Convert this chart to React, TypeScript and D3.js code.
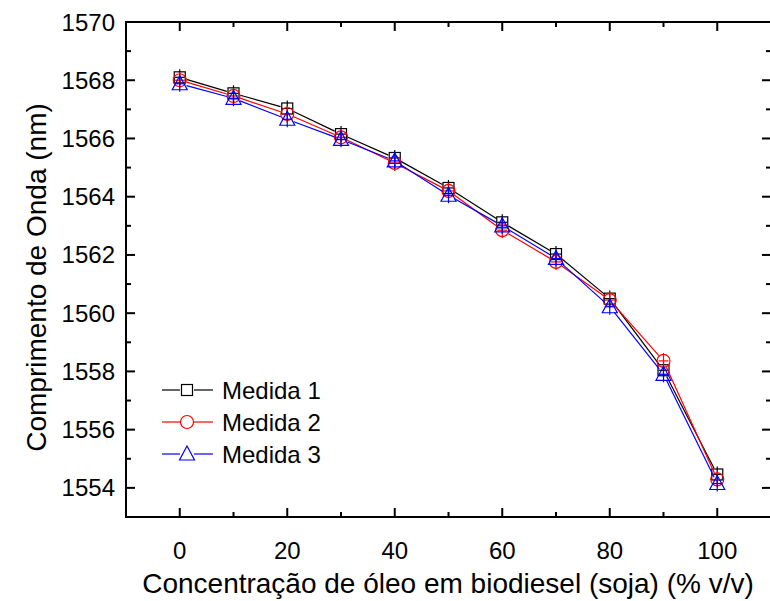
import { useEffect, useRef } from "react";
import * as d3 from "d3";

// concentração (% v/v)
const concentrations = [0, 10, 20, 30, 40, 50, 60, 70, 80, 90, 100];
const medida1 = [1568.1, 1567.55, 1567.03, 1566.15, 1565.33, 1564.3, 1563.12, 1562.03, 1560.5, 1558.04, 1554.46];
const medida2 = [1568.0, 1567.46, 1566.84, 1566.04, 1565.16, 1564.2, 1562.85, 1561.76, 1560.45, 1558.36, 1554.29];
const medida3 = [1567.88, 1567.38, 1566.66, 1565.97, 1565.23, 1564.05, 1563.0, 1561.88, 1560.22, 1557.9, 1554.15];
const seriesNames = ["Medida 1", "Medida 2", "Medida 3"];
const xTicks = [0, 20, 40, 60, 80, 100];
const yTicks = [1554, 1556, 1558, 1560, 1562, 1564, 1566, 1568, 1570];

const colors = ["#000000", "#ff0000", "#0000ff"];
const shapes = ["square", "circle", "triangle"];

export default function App() {
  const svgRef = useRef<SVGSVGElement>(null);

  useEffect(() => {
    const width = 770;
    const height = 601;
    const left = 126, right = 771, top = 22, bottom = 517;

    const svg = d3.select(svgRef.current)
      .attr("width", width)
      .attr("height", height)
      .style("font-family", "'Liberation Sans', Arial, sans-serif");
    svg.selectAll("*").remove();

    const x = d3.scaleLinear().domain([-10, 110]).range([left, right]);
    const y = d3.scaleLinear().domain([1553, 1570]).range([bottom, top]);

    const minorX = d3.range(10, 100, 20);
    const minorY = d3.range(1553, 1570, 2);

    const axes = svg.append("g").attr("stroke", "#000");
    // frame
    axes.append("rect")
      .attr("x", left).attr("y", top)
      .attr("width", right - left).attr("height", bottom - top)
      .attr("fill", "none").attr("stroke-width", 2);

    // ticks (all inward)
    xTicks.forEach(t => {
      axes.append("line").attr("x1", x(t)).attr("x2", x(t)).attr("y1", bottom).attr("y2", bottom - 9).attr("stroke-width", 2);
      axes.append("line").attr("x1", x(t)).attr("x2", x(t)).attr("y1", top).attr("y2", top + 9).attr("stroke-width", 2);
    });
    minorX.forEach(t => {
      axes.append("line").attr("x1", x(t)).attr("x2", x(t)).attr("y1", bottom).attr("y2", bottom - 5).attr("stroke-width", 2);
      axes.append("line").attr("x1", x(t)).attr("x2", x(t)).attr("y1", top).attr("y2", top + 5).attr("stroke-width", 2);
    });
    yTicks.forEach(t => {
      axes.append("line").attr("x1", left).attr("x2", left + 9).attr("y1", y(t)).attr("y2", y(t)).attr("stroke-width", 2);
      axes.append("line").attr("x1", right).attr("x2", right - 9).attr("y1", y(t)).attr("y2", y(t)).attr("stroke-width", 2);
    });
    minorY.forEach(t => {
      axes.append("line").attr("x1", left).attr("x2", left + 5).attr("y1", y(t)).attr("y2", y(t)).attr("stroke-width", 2);
      axes.append("line").attr("x1", right).attr("x2", right - 5).attr("y1", y(t)).attr("y2", y(t)).attr("stroke-width", 2);
    });

    // tick labels
    svg.append("g").selectAll("text").data(xTicks).join("text")
      .attr("x", d => x(d)).attr("y", 559)
      .attr("text-anchor", "middle").attr("font-size", 24)
      .text(d => d);
    svg.append("g").selectAll("text").data(yTicks).join("text")
      .attr("x", 115).attr("y", d => y(d) + 8.5)
      .attr("text-anchor", "end").attr("font-size", 24)
      .text(d => d);

    // axis titles
    svg.append("text")
      .attr("x", 448).attr("y", 593)
      .attr("text-anchor", "middle").attr("font-size", 28)
      .text("Concentração de óleo em biodiesel (soja) (% v/v)");
    svg.append("text")
      .attr("transform", `translate(46, ${(top + bottom) / 2 + 8}) rotate(-90)`)
      .attr("text-anchor", "middle").attr("font-size", 28)
      .text("Comprimento de Onda (nm)");

    const drawMarker = (g: any, shape: string, cx: number, cy: number, color: string) => {
      if (shape === "square") {
        g.append("rect").attr("x", cx - 5.5).attr("y", cy - 5.5).attr("width", 11).attr("height", 11)
          .attr("fill", "none").attr("stroke", color).attr("stroke-width", 1.2);
      } else if (shape === "circle") {
        g.append("circle").attr("cx", cx).attr("cy", cy).attr("r", 6.5)
          .attr("fill", "none").attr("stroke", color).attr("stroke-width", 1.2);
      } else {
        g.append("path")
          .attr("d", `M${cx},${cy - 8}L${cx + 7.5},${cy + 6}L${cx - 7.5},${cy + 6}Z`)
          .attr("fill", "none").attr("stroke", color).attr("stroke-width", 1.2);
      }
    };

    const allSeries = [medida1, medida2, medida3];
    const gap = 7;
    allSeries.forEach((vals, si) => {
      const color = colors[si];
      const g = svg.append("g");
      const pts = concentrations.map((c, i) => [x(c), y(vals[i])] as [number, number]);
      // connecting segments, stopping short of markers
      for (let i = 0; i < pts.length - 1; i++) {
        const [x1, y1] = pts[i];
        const [x2, y2] = pts[i + 1];
        const len = Math.hypot(x2 - x1, y2 - y1);
        const ux = (x2 - x1) / len, uy = (y2 - y1) / len;
        g.append("line")
          .attr("x1", x1 + ux * gap).attr("y1", y1 + uy * gap)
          .attr("x2", x2 - ux * gap).attr("y2", y2 - uy * gap)
          .attr("stroke", color).attr("stroke-width", 1.2);
      }
      // small error crosses + markers
      pts.forEach(([px, py]) => {
        g.append("line").attr("x1", px).attr("x2", px).attr("y1", py - 8).attr("y2", py + 8)
          .attr("stroke", color).attr("stroke-width", 1.2);
        g.append("line").attr("x1", px - 5).attr("x2", px + 5).attr("y1", py).attr("y2", py)
          .attr("stroke", color).attr("stroke-width", 1.2);
        drawMarker(g, shapes[si], px, py, color);
      });
    });

    // legend
    const legend = svg.append("g");
    seriesNames.forEach((name, i) => {
      const ly = 390 + i * 32;
      const color = colors[i];
      legend.append("line").attr("x1", 162).attr("x2", 180).attr("y1", ly).attr("y2", ly)
        .attr("stroke", color).attr("stroke-width", 1.2);
      legend.append("line").attr("x1", 194).attr("x2", 213).attr("y1", ly).attr("y2", ly)
        .attr("stroke", color).attr("stroke-width", 1.2);
      drawMarker(legend, shapes[i], 187, ly, color);
      legend.append("text").attr("x", 222).attr("y", ly + 8.5).attr("font-size", 24).text(name);
    });
  }, []);

  return <svg ref={svgRef} style={{ display: "block", position: "absolute", left: 0, top: 0 }}></svg>;
}
